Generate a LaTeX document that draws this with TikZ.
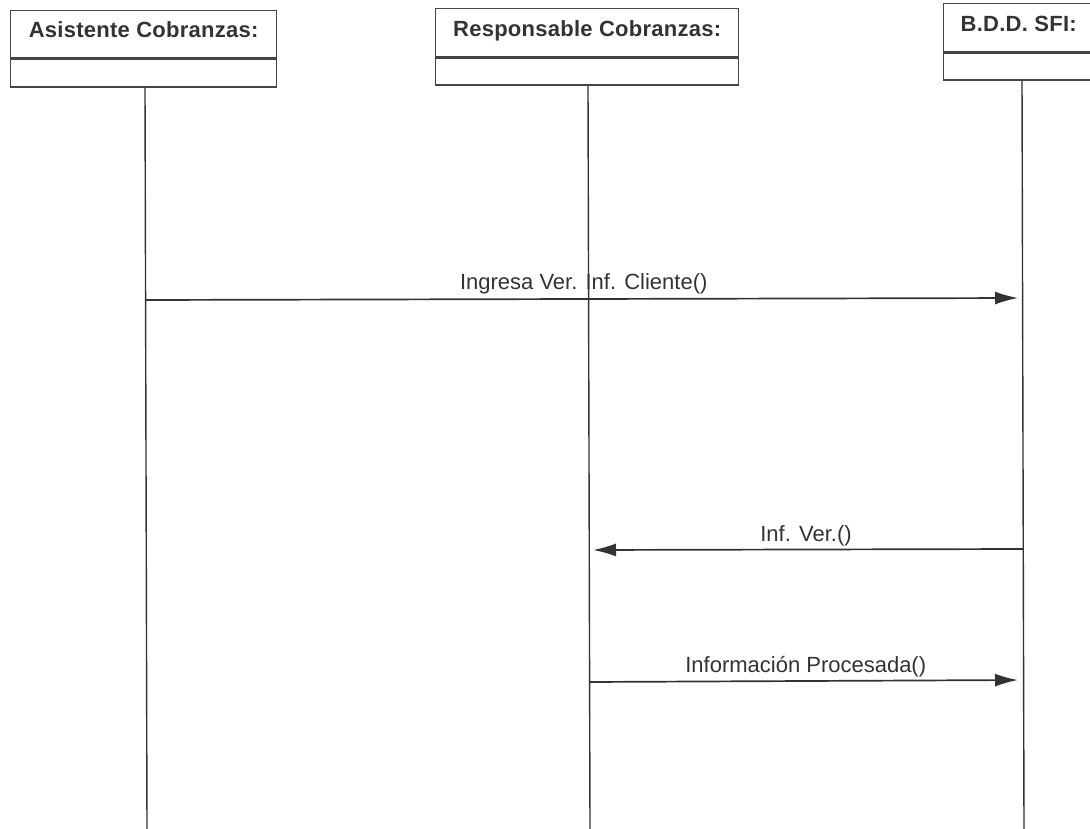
\documentclass[tikz,border=0pt]{standalone}
\usepackage{fontspec}
\setmainfont{Liberation Sans}
\newfontfamily\headfont{Liberation Sans}[LetterSpace=1.2]
\usetikzlibrary{arrows.meta}
\definecolor{boxgray}{HTML}{444444}
\definecolor{linegray}{HTML}{333333}
\definecolor{textgray}{HTML}{333333}

\begin{document}
\begin{tikzpicture}[x=1pt,y=-1pt,
  headbox/.style={draw=boxgray, line width=1.4pt, inner xsep=0pt, inner ysep=0pt,
    text height=26.5pt, text depth=20.5pt, anchor=north west,
    font=\headfont\bfseries\fontsize{22}{26}\selectfont, text=textgray},
  compbox/.style={draw=boxgray, line width=1.4pt, inner sep=0pt, anchor=north west},
  lifeline/.style={draw=linegray, line width=1.4pt},
  msg/.style={draw=linegray, line width=1.7pt, -{Latex[length=23pt,width=13pt]}, shorten >=4pt},
  msglabel/.style={font=\fontsize{22}{26}\selectfont, text=textgray, anchor=base, inner sep=0pt}]
  \useasboundingbox (0,0) rectangle (1090,829);
  \clip (0,0) rectangle (1090,829);
  \fill[white] (0,0) rectangle (1090,829);

  % object boxes
  \node[headbox, minimum width=266pt] (asis) at (10,10) {Asistente Cobranzas:};
  \node[compbox, minimum width=266pt, minimum height=28pt] (asisc) at (asis.south west) {};
  \node[headbox, minimum width=303pt, text height=27.5pt, text depth=20.5pt] (resp) at (435,8) {Responsable Cobranzas:};
  \node[compbox, minimum width=303pt, minimum height=27pt] (respc) at (resp.south west) {};
  \node[headbox, minimum width=150pt, text height=27.5pt, text depth=20.5pt] (bdd) at (943,3) {B.D.D. SFI:};
  \node[compbox, minimum width=150pt, minimum height=27pt] (bddc) at (bdd.south west) {};

  % lifelines
  \coordinate (asisend) at (147,829);
  \coordinate (respend) at (590,829);
  \coordinate (bddend) at (1024,829);
  \draw[lifeline] (asisc.south -| 145,0) -- (asisend);
  \draw[lifeline] (respc.south -| 588,0) -- (respend);
  \draw[lifeline] (bddc.south -| 1022,0) -- (bddend);

  % message anchor points on the lifelines
  \coordinate (m1a) at (145.5,300);
  \coordinate (m1b) at (1022,298);
  \coordinate (m2a) at (1023,549);
  \coordinate (m2b) at (589,550);
  \coordinate (m3a) at (589.5,682);
  \coordinate (m3b) at (1022,680);

  % messages
  \draw[msg] (m1a) -- node[msglabel, pos=0.5, yshift=9pt] (l1) {Ingresa Ver. Inf. Cliente()} (m1b);
  \draw[msg] (m2a) -- node[msglabel, pos=0.5, yshift=8pt] (l2) {Inf. Ver.()} (m2b);
  \draw[msg] (m3a) -- node[msglabel, pos=0.5, yshift=9pt] (l3) {Información Procesada()} (m3b);
\end{tikzpicture}
\end{document}
